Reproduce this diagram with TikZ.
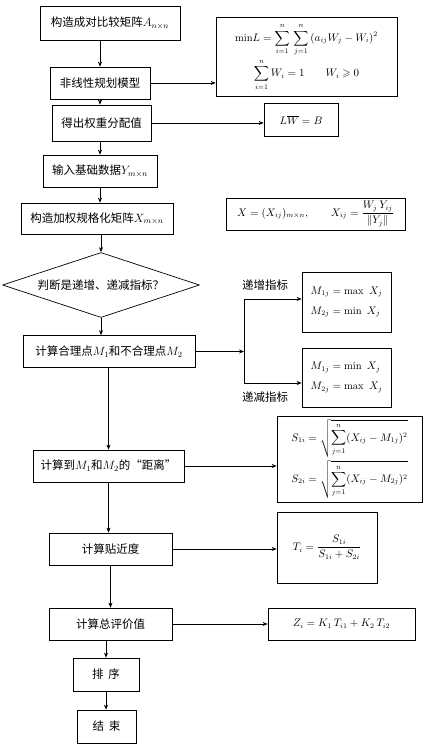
\documentclass[tikz,border=0pt]{standalone}
\usepackage{amsmath,amssymb}
\usepackage{fontspec}
\newfontfamily\cjk{Noto Sans CJK SC}
\usetikzlibrary{shapes.geometric,arrows.meta,calc}
\begin{document}
\begin{tikzpicture}[x=1pt,y=-1pt,
  every node/.style={inner sep=2pt},
  box/.style={draw,line width=0.7pt,font=\fontsize{11.5}{13}\selectfont\cjk},
  fbox/.style={draw,line width=0.7pt,font=\fontsize{10.5}{13}\selectfont},
  lab/.style={font=\fontsize{11.5}{13}\selectfont\cjk},
  arr/.style={line width=0.7pt,-{Stealth[length=5pt,width=4pt]}},
  ln/.style={line width=0.7pt}]
\useasboundingbox[fill=white] (0,0) rectangle (428,745);

% main column
\node[box,minimum width=140pt,minimum height=34pt] (b1) at (110,23) {构造成对比较矩阵$A_{n\times n}$};
\node[box,minimum width=100pt,minimum height=32pt] (b2) at (100,83) {非线性规划模型};
\node[box,minimum width=99pt,minimum height=36pt] (b3) at (101.5,123) {得出权重分配值};
\node[box,minimum width=114pt,minimum height=32pt] (b4) at (100,171) {输入基础数据$Y_{m\times n}$};
\node[box,minimum width=152pt,minimum height=31pt] (b5) at (97,218.5) {构造加权规格化矩阵$X_{m\times n}$};
\node[draw,line width=0.7pt,diamond,aspect=3,minimum width=197pt,minimum height=65pt,inner sep=0pt,font=\fontsize{11.5}{13}\selectfont\cjk] (d) at (101,285) {判断是递增、递减指标？};
\node[box,minimum width=172pt,minimum height=32pt] (b6) at (109,351.5) {计算合理点$M_1$和不合理点$M_2$};
\node[box,minimum width=151pt,minimum height=32pt] (b7) at (108.5,466) {计算到$M_1$和$M_2$的“距离”};
\node[box,minimum width=123pt,minimum height=32pt] (b8) at (110.5,549) {计算贴近度};
\node[box,minimum width=123pt,minimum height=32pt] (b9) at (110.5,624) {计算总评价值};
\node[box,minimum width=66pt,minimum height=33pt] (b10) at (106,674.5) {排\hspace{5pt}序};
\node[box,minimum width=59pt,minimum height=33pt] (b11) at (106.5,726.5) {结\hspace{5pt}束};

% formula boxes
\node[fbox,minimum width=181pt,minimum height=79pt,align=center] (f1) at (306.5,57)
  {$\displaystyle \mathrm{min}L=\sum_{i=1}^{n}\,\sum_{j=1}^{n}\,(a_{ij}W_j-W_i)^2$\\[3pt]
   $\displaystyle \sum_{i=1}^{n}W_i=1\qquad W_i\geqslant 0$};
\node[fbox,minimum width=74pt,minimum height=33pt] (f2) at (301,120) {$L\overline{W}=B$};
\node[fbox,minimum width=179pt,minimum height=32pt] (fx) at (315.5,214)
  {$X=(X_{ij})_{m\times n},\qquad X_{ij}=\dfrac{W_j\,Y_{ij}}{\|Y_j\|}$};
\node[fbox,minimum width=89pt,minimum height=60pt,align=left] (u) at (346.5,302)
  {$M_{1j}=\max\ X_j$\\[7pt]$M_{2j}=\min\ X_j$};
\node[fbox,minimum width=89pt,minimum height=59pt,align=left] (l) at (346.5,377.5)
  {$M_{1j}=\min\ X_j$\\[7pt]$M_{2j}=\max\ X_j$};
\node[fbox,minimum width=145pt,minimum height=86pt,align=left] (s) at (349.5,459)
  {$\displaystyle S_{1i}=\sqrt{\sum_{j=1}^{n}(X_{ij}-M_{1j})^2}$\\[2pt]
   $\displaystyle S_{2i}=\sqrt{\sum_{j=1}^{n}(X_{ij}-M_{2j})^2}$};
\node[fbox,minimum width=100pt,minimum height=71pt] (t) at (327,547.5)
  {$\displaystyle T_i=\frac{S_{1i}}{S_{1i}+S_{2i}}$};
\node[fbox,minimum width=147pt,minimum height=32pt] (z) at (341.5,624)
  {$Z_i=K_1\,T_{i1}+K_2\,T_{i2}$};

% branch labels
\node[lab] (lu) at (265,285) {递增指标};
\node[lab] (ll) at (265,397) {递减指标};
\coordinate (jt) at (244,299);
\coordinate (jb) at (244,383);

% vertical arrows
\draw[arr] (b1.south -| b2) -- (b2.north);
\draw[arr] (b2.south) -- (b2.south |- b3.north);
\draw[arr] (b3.south -| b4) -- (b4.north);
\draw[arr] (b4.south) -- (b4.south |- b5.north);
\draw[arr] (b5.south -| d) -- (d.north);
\draw[arr] (d.south) -- (d.south |- b6.north);
\draw[arr] (b6.south -| b7) -- (b7.north);
\draw[arr] (b7.south) -- (b7.south |- b8.north);
\draw[arr] (b8.south) -- (b8.south |- b9.north);
\draw[arr] (b9.south -| b10) -- (b10.north);
\draw[arr] (b10.south) -- (b10.south |- b11.north);

% horizontal arrows
\draw[arr] (b2.east) -- (b2.east -| f1.west);
\draw[arr] (b3.east) -- (b3.east -| f2.west);
\draw[arr] (b6.east) -- (b6.east -| jt);
\draw[ln] (jt) -- (jb);
\draw[arr] (jt) -- (jt -| u.west);
\draw[arr] (jb) -- (jb -| l.west);
\draw[arr] (b7.east) -- (b7.east -| s.west);
\draw[arr] (b8.east) -- (b8.east -| t.west);
\draw[arr] (b9.east) -- (b9.east -| z.west);
\end{tikzpicture}
\end{document}
